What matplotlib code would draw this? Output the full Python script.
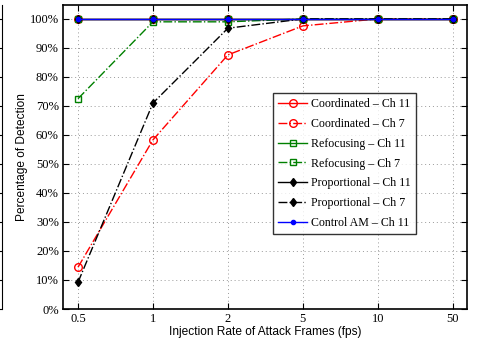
import matplotlib
matplotlib.use("Agg")
import matplotlib.pyplot as plt
from matplotlib.ticker import FuncFormatter

rates = ["0.5", "1", "2", "5", "10", "50"]
coord_ch11 = [100, 100, 100, 100, 100, 100]
coord_ch7 = [14.4, 58.3, 87.6, 97.6, 100, 100]
refoc_ch11 = [100, 100, 100, 100, 100, 100]
refoc_ch7 = [72.5, 99.0, 99.0, 100, 100, 100]
prop_ch11 = [100, 100, 100, 100, 100, 100]
prop_ch7 = [9.2, 71.0, 96.8, 100, 100, 100]
ctrl_ch11 = [100, 100, 100, 100, 100, 100]

W, H = 479, 341
fig = plt.figure(figsize=(W / 100, H / 100), dpi=100)
left, right, top, bottom = 63, 467, 5, 309
ax = fig.add_axes([left / W, 1 - bottom / H, (right - left) / W, (bottom - top) / H])

x = list(range(len(rates)))
serif = ["Liberation Serif", "DejaVu Serif"]
sans = ["Liberation Sans", "DejaVu Sans"]

ax.plot(x, coord_ch11, '-', color='red', marker='o', mfc='none', ms=5.5, lw=1, label='Coordinated – Ch 11')
ax.plot(x, coord_ch7, '-.', color='red', marker='o', mfc='none', ms=5.5, lw=1, label='Coordinated – Ch 7')
ax.plot(x, refoc_ch11, '-', color='green', marker='s', mfc='none', ms=4.5, lw=1, label='Refocusing – Ch 11')
ax.plot(x, refoc_ch7, '-.', color='green', marker='s', mfc='none', ms=4.5, lw=1, label='Refocusing – Ch 7')
ax.plot(x, prop_ch11, '-', color='black', marker='d', ms=4.5, lw=1, label='Proportional – Ch 11')
ax.plot(x, prop_ch7, '-.', color='black', marker='d', ms=4.5, lw=1, label='Proportional – Ch 7')
ax.plot(x, ctrl_ch11, '-', color='blue', marker='.', ms=6, lw=1, label='Control AM – Ch 11')

ax.set_xlim(-0.2, 5.19)
ax.set_ylim(0, 104.8)
ax.set_xticks(x)
ax.set_xticklabels(rates, fontfamily=serif, fontsize=9)
ax.set_yticks(range(0, 101, 10))
ax.yaxis.set_major_formatter(FuncFormatter(lambda v, p: f"{int(v)}%"))
for lab in ax.get_yticklabels():
    lab.set_fontfamily(serif)
    lab.set_fontsize(9)
ax.tick_params(direction='in', top=True, right=True, length=4, width=0.8, pad=3)
ax.grid(True, linestyle=(0, (1, 3)), color='#999999', lw=0.7)
for s in ax.spines.values():
    s.set_linewidth(1.2)

ax.set_ylabel("Percentage of Detection", fontfamily=sans, fontsize=8.6, labelpad=1.5)
ax.set_xlabel("Injection Rate of Attack Frames (fps)", fontfamily=sans, fontsize=8.6, labelpad=0.5)

leg = ax.legend(loc='upper left', bbox_to_anchor=((273 - left) / (right - left), 1 - (93 - top) / (bottom - top)),
                prop={'family': serif, 'size': 8.6}, frameon=True, fancybox=False,
                edgecolor='black', handlelength=2.4, handletextpad=0.3, borderpad=0.45,
                labelspacing=0.65, borderaxespad=0)
leg.get_frame().set_linewidth(1.0)

# edge of neighbouring panel on the far left
ax2 = fig.add_axes([-0.5, 1 - bottom / H, 0.5 + 2 / W, (bottom - top) / H])
ax2.set_ylim(0, 104.8)
ax2.set_yticks(range(0, 101, 10))
ax2.set_xticks([])
ax2.yaxis.tick_right()
ax2.tick_params(direction='in', length=3, labelright=False)
for k in ['top', 'left', 'bottom']:
    ax2.spines[k].set_visible(False)

fig.savefig("out.png", dpi=100)
